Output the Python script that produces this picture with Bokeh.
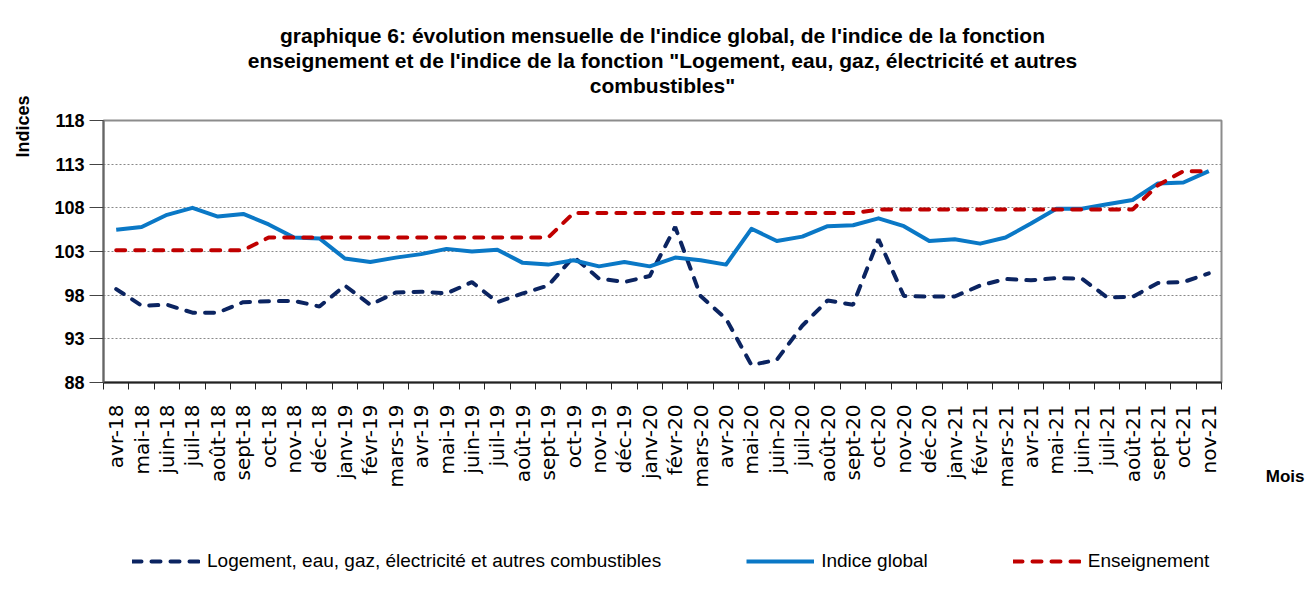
from math import pi
from bokeh.plotting import figure
from bokeh.layouts import column
from bokeh.models import (Range1d, FixedTicker, Title, Legend, LegendItem,
                          ColumnDataSource)
from bokeh.embed import file_html
from bokeh.resources import INLINE

months = ["avr-18", "mai-18", "juin-18", "juil-18", "août-18", "sept-18", "oct-18",
          "nov-18", "déc-18", "janv-19", "févr-19", "mars-19", "avr-19", "mai-19",
          "juin-19", "juil-19", "août-19", "sept-19", "oct-19", "nov-19", "déc-19",
          "janv-20", "févr-20", "mars-20", "avr-20", "mai-20", "juin-20", "juil-20",
          "août-20", "sept-20", "oct-20", "nov-20", "déc-20", "janv-21", "févr-21",
          "mars-21", "avr-21", "mai-21", "juin-21", "juil-21", "août-21", "sept-21",
          "oct-21", "nov-21"]

logement = [98.7, 96.8, 96.9, 96.0, 96.0, 97.2, 97.3, 97.35, 96.7,
            99.1, 96.9, 98.3, 98.4, 98.2, 99.5, 97.2, 98.2, 99.1, 102.4, 99.9, 99.5,
            100.2, 105.8, 97.9, 95.3, 90.0, 90.6, 94.5, 97.4, 96.9, 104.4, 97.9, 97.85,
            97.85, 99.1, 99.85, 99.7, 99.95, 99.9, 97.75, 97.8, 99.4, 99.5, 100.5]

indice_global = [105.5, 105.8, 107.2, 108.0, 107.0, 107.3, 106.1, 104.6, 104.5,
                 102.2, 101.8, 102.3, 102.7, 103.3, 103.0, 103.2, 101.7, 101.5, 102.0, 101.3, 101.8,
                 101.3, 102.3, 102.0, 101.5, 105.6, 104.2, 104.7, 105.9, 106.0, 106.8, 105.9, 104.2,
                 104.4, 103.9, 104.6, 106.2, 107.9, 107.9, 108.4, 108.9, 110.8, 110.9, 112.2]

enseignement = [103.15, 103.15, 103.15, 103.15, 103.15, 103.15,
                104.6, 104.6, 104.6, 104.6, 104.6, 104.6, 104.6, 104.6, 104.6, 104.6, 104.6, 104.6,
                107.4, 107.4, 107.4, 107.4, 107.4, 107.4, 107.4, 107.4, 107.4, 107.4, 107.4, 107.4,
                107.8, 107.8, 107.8, 107.8, 107.8, 107.8, 107.8, 107.8, 107.8, 107.8, 107.8,
                110.6, 112.2, 112.2]

y_ticks = [88, 93, 98, 103, 108, 113, 118]

series_names = ["Logement, eau, gaz, électricité et autres combustibles",
                "Indice global", "Enseignement"]

title_lines = ["graphique 6: évolution mensuelle de l'indice global, de l'indice de la fonction",
               "enseignement et de l'indice de la fonction \"Logement, eau, gaz, électricité et autres",
               "combustibles\""]

xs = list(range(len(months)))
src = ColumnDataSource(dict(x=xs, log=logement, glob=indice_global, ens=enseignement))

styles = [dict(line_color="#0b2461", line_width=4, line_dash="9 10", line_cap="round"),
          dict(line_color="#0a78c6", line_width=4, line_join="round"),
          dict(line_color="#c00000", line_width=4, line_dash="9 10", line_cap="round")]
cols = ["log", "glob", "ens"]

p = figure(title=None, output_backend="svg", toolbar_location=None,
           frame_width=1118, frame_height=262,
           min_border_left=103, min_border_right=84, min_border_top=120, min_border_bottom=110,
           x_range=Range1d(-0.5, len(months) - 0.5), y_range=Range1d(88, 118),
           background_fill_color="white", border_fill_color="white")

p.outline_line_color = "#8c8c8c"
p.outline_line_width = 2

renderers = [p.line("x", c, source=src, **st) for c, st in zip(cols, styles)]

# x axis
xa = p.xaxis[0]
xa.ticker = FixedTicker(ticks=xs, minor_ticks=[i - 0.5 for i in range(len(months) + 1)])
xa.major_label_overrides = {i: m for i, m in enumerate(months)}
xa.major_label_orientation = pi / 2
xa.major_tick_line_color = None
xa.major_tick_out = 0
xa.major_tick_in = 0
xa.minor_tick_out = 7
xa.minor_tick_in = 0
xa.minor_tick_line_color = "#222222"
xa.minor_tick_line_width = 1
xa.axis_line_color = "#222222"
xa.axis_line_width = 2
xa.major_label_standoff = 15
xa.major_label_text_font = "DejaVu Sans"
xa.major_label_text_font_size = "20px"
xa.major_label_text_color = "black"

# y axis
ya = p.yaxis[0]
ya.ticker = FixedTicker(ticks=y_ticks)
ya.major_tick_out = 14
ya.major_tick_in = 0
ya.minor_tick_line_color = None
ya.major_tick_line_color = "#444444"
ya.axis_line_color = "#666666"
ya.axis_line_width = 2
ya.major_label_standoff = 5
ya.major_label_text_font = "Liberation Sans"
ya.major_label_text_font_style = "bold"
ya.major_label_text_font_size = "18px"
ya.major_label_text_color = "black"

p.xgrid.visible = False
p.ygrid.ticker = FixedTicker(ticks=y_ticks)
p.ygrid.grid_line_color = "#888888"
p.ygrid.grid_line_dash = "2 2"
p.ygrid.grid_line_width = 1

# titles above (closest first): spacer, then lines 3, 2, 1
p.add_layout(Title(text=" ", text_font_size="20px", standoff=0), "above")
for line in reversed(title_lines):
    p.add_layout(Title(text=line, align="center", text_font="Liberation Sans",
                       text_font_style="bold", text_font_size="21px",
                       text_color="black", standoff=0), "above")

# y axis name on the left
p.add_layout(Title(text=" ", text_font_size="15px", standoff=0), "left")
p.add_layout(Title(text="Indices", align="right", offset=-25, standoff=0,
                   text_font="Liberation Sans", text_font_style="bold",
                   text_font_size="18px", text_color="black"), "left")

# x axis name below
p.add_layout(Title(text="Mois", align="right", offset=-83, standoff=-47,
                   vertical_align="top",
                   text_font="Liberation Sans", text_font_style="bold",
                   text_font_size="17px", text_color="black"), "below")

# legend strip below the chart
lg = figure(output_backend="svg", toolbar_location=None,
            width=1305, height=97, min_border=0,
            x_axis_type=None, y_axis_type=None,
            x_range=Range1d(0, 1), y_range=Range1d(0, 1),
            background_fill_color="white", border_fill_color="white")
lg.outline_line_color = None
lg.grid.visible = False
leg_renderers = [lg.line("x", c, source=src, **st) for c, st in zip(cols, styles)]

legend = Legend(items=[LegendItem(label=n, renderers=[r])
                       for n, r in zip(series_names, leg_renderers)],
                orientation="horizontal", location=(29, 17),
                glyph_width=68, glyph_height=20, label_standoff=7, spacing=85,
                padding=5, margin=0, border_line_color=None, background_fill_alpha=0,
                label_text_font="Liberation Sans", label_text_font_size="19px",
                label_text_color="black")
lg.add_layout(legend, "center")

layout = column(p, lg, spacing=0)
open("out.html", "w").write(file_html(layout, INLINE))
